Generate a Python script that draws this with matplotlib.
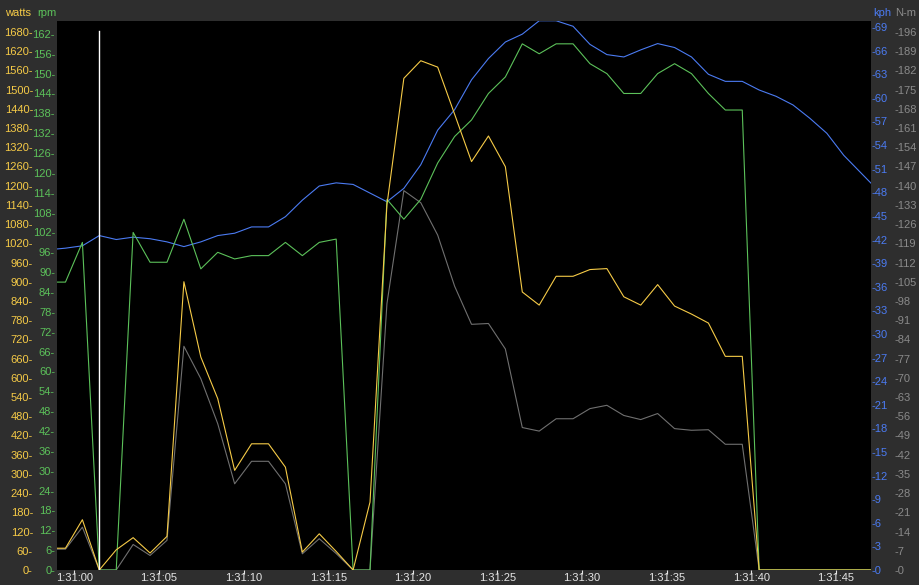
import matplotlib
matplotlib.use('Agg')
import matplotlib.pyplot as plt
import numpy as np

# ride samples, 1 Hz, seconds after 1:31:00
secs = np.arange(50) - 1.53

watts = [68, 68, 157, 0, 63, 101, 53, 105, 900, 665,
         535, 311, 394, 394, 321, 56, 113, 58, 0, 212,
         1140, 1535, 1590, 1570, 1423, 1275, 1355, 1259, 868, 827,
         917, 917, 938, 941, 853, 827, 891, 824, 799, 771,
         667, 667, 0, 0, 0, 0, 0, 0, 0, 0]
rpm = [87, 87, 99, 0, 0, 102, 93, 93, 106, 91,
       96, 94, 95, 95, 99, 95, 99, 100, 0, 0,
       112, 106, 112, 123, 131, 136, 144, 149, 159, 156,
       159, 159, 153, 150, 144, 144, 150, 153, 150, 144,
       139, 139, 0, 0, 0, 0, 0, 0, 0, 0]
kph = [40.7, 40.9, 41.2, 42.5, 42.0, 42.3, 42.1, 41.7, 41.1, 41.7,
       42.5, 42.8, 43.6, 43.6, 44.9, 47.0, 48.8, 49.2, 49.0, 47.9,
       46.8, 48.5, 51.5, 55.9, 58.5, 62.3, 65.0, 67.1, 68.1, 69.8,
       69.8, 69.1, 66.8, 65.5, 65.2, 66.1, 66.9, 66.4, 65.2, 63.0,
       62.1, 62.1, 61.0, 60.2, 59.1, 57.4, 55.5, 52.7, 50.5, 48.3]
nm = [7.6, 7.6, 15.6, 0, 0, 9.3, 5.3, 10.8, 81.5, 69.7,
      53.3, 31.4, 39.6, 39.6, 31.4, 5.9, 11.4, 6, 0, 0,
      97, 138.2, 133.8, 122, 103.4, 89.5, 89.8, 80.5, 51.9, 50.6,
      55.1, 55.1, 58.8, 60, 56.3, 54.8, 57, 51.5, 50.9, 51.1,
      45.8, 45.8, 0, 0, 0, 0, 0, 0, 0, 0]

tick_secs = [0, 5, 10, 15, 20, 25, 30, 35, 40, 45]
tick_labels = ['1:31:00', '1:31:05', '1:31:10', '1:31:15', '1:31:20',
               '1:31:25', '1:31:30', '1:31:35', '1:31:40', '1:31:45']
marker_sec = 1.47

BG = '#2e2e2e'
YELLOW = '#f6cb47'
GREEN = '#5cc15a'
BLUE = '#4b7bf2'
GREY = '#707070'
GREY_TXT = '#8a8a8a'

plt.rcParams['font.family'] = ['Liberation Sans', 'DejaVu Sans']
plt.rcParams['font.size'] = 8

fig = plt.figure(figsize=(9.2, 5.85), dpi=100, facecolor=BG)
# base axes carries torque + the time axis
ax_n = fig.add_axes([57 / 920, 15 / 585, 814 / 920, 549 / 585])
ax_n.set_facecolor('black')
ax_k = ax_n.twinx()
ax_r = ax_n.twinx()
ax_w = ax_n.twinx()

lw = 0.8
ax_n.plot(secs, nm, color=GREY, lw=lw)
ax_k.plot(secs, kph, color=BLUE, lw=lw)
ax_r.plot(secs, rpm, color=GREEN, lw=lw)
ax_w.plot(secs, watts, color=YELLOW, lw=lw)
ax_w.axvline(marker_sec, ymin=0, ymax=0.982, color='white', lw=1.0)

ax_n.set_xlim(-1.03, 47.08)
ax_n.set_ylim(0, 200)
ax_k.set_ylim(0, 69.77)
ax_r.set_ylim(0, 165.9)
ax_w.set_ylim(0, 1714)

for a in (ax_n, ax_k, ax_r, ax_w):
    for s in a.spines.values():
        s.set_visible(False)

# left scales
ax_w.yaxis.tick_left()
ax_r.yaxis.tick_left()
ax_w.set_yticks(range(0, 1681, 60), [f'{v}-' for v in range(0, 1681, 60)])
ax_r.set_yticks(range(0, 163, 6), [f'{v}-' for v in range(0, 163, 6)])
ax_w.tick_params(axis='y', length=0, pad=17.3, labelcolor=YELLOW)
ax_r.tick_params(axis='y', length=0, pad=1.4, labelcolor=GREEN)

# right scales
ax_n.yaxis.tick_right()
ax_k.yaxis.tick_right()
ax_k.set_yticks(range(0, 70, 3), [f'-{v}' for v in range(0, 70, 3)])
ax_n.set_yticks(range(0, 197, 7), [f'-{v}' for v in range(0, 197, 7)])
ax_k.tick_params(axis='y', length=0, pad=0.7, labelcolor=BLUE)
ax_n.tick_params(axis='y', length=0, pad=16.6, labelcolor=GREY_TXT)

ax_n.set_xticks(tick_secs, tick_labels)
ax_n.tick_params(axis='x', colors='#e6e6e6', length=3, width=0.8, pad=-0.6)

fig.text(5 / 920, 1 - 13 / 585, 'watts', color=YELLOW, ha='left', va='center')
fig.text(37 / 920, 1 - 13 / 585, 'rpm', color=GREEN, ha='left', va='center')
fig.text(873 / 920, 1 - 13 / 585, 'kph', color=BLUE, ha='left', va='center')
fig.text(895 / 920, 1 - 13 / 585, 'N-m', color=GREY_TXT, ha='left', va='center')

fig.savefig('out.png', dpi=100, facecolor=BG)
